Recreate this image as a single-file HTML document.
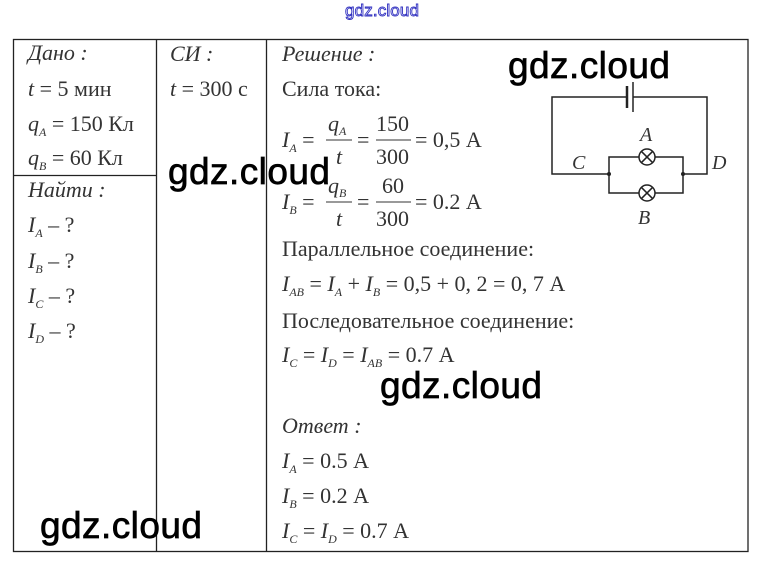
<!DOCTYPE html>
<html><head><meta charset="utf-8"><style>
html,body{margin:0;padding:0;background:#fff;}
svg{display:block;}
text{font-family:"Liberation Serif",serif;fill:#333;}
.i{font-style:italic;}
.s{font-size:12px;font-style:italic;}
.w{font-family:"Liberation Sans","DejaVu Sans",sans-serif;font-size:37px;fill:#000;stroke:#000;stroke-width:0.7;}
</style></head><body>
<svg width="764" height="569" viewBox="0 0 764 569" xmlns="http://www.w3.org/2000/svg">
<rect x="0" y="0" width="764" height="569" fill="#fff"/>
<text x="345" y="16" textLength="74" style="font-family:'Liberation Sans',sans-serif;font-size:17px;fill:#fff;stroke:#3030c0;stroke-width:0.9">gdz.cloud</text>
<g stroke="#222" stroke-width="1.3" fill="none">
<rect x="13.5" y="39.5" width="734.5" height="512"/>
<line x1="156.5" y1="39.5" x2="156.5" y2="552"/>
<line x1="266.5" y1="39.5" x2="266.5" y2="552"/>
<line x1="13.5" y1="175.5" x2="156.5" y2="175.5"/>
</g>
<g font-size="22">
<text x="28" y="60" class="i">Дано :</text>
<text x="28" y="96"><tspan class="i">t</tspan> = 5 мин</text>
<text x="28" y="131"><tspan class="i">q</tspan><tspan class="s" dy="5">A</tspan><tspan dy="-5"> = 150 Кл</tspan></text>
<text x="28" y="165"><tspan class="i">q</tspan><tspan class="s" dy="5">B</tspan><tspan dy="-5"> = 60 Кл</tspan></text>
<text x="28" y="197" class="i">Найти :</text>
<text x="28" y="232"><tspan class="i">I</tspan><tspan class="s" dy="5">A</tspan><tspan dy="-5"> – ?</tspan></text>
<text x="28" y="268"><tspan class="i">I</tspan><tspan class="s" dy="5">B</tspan><tspan dy="-5"> – ?</tspan></text>
<text x="28" y="303"><tspan class="i">I</tspan><tspan class="s" dy="5">C</tspan><tspan dy="-5"> – ?</tspan></text>
<text x="28" y="338"><tspan class="i">I</tspan><tspan class="s" dy="5">D</tspan><tspan dy="-5"> – ?</tspan></text>

<text x="170" y="61" class="i">СИ :</text>
<text x="170" y="96"><tspan class="i">t</tspan> = 300 с</text>

<text x="282" y="61" class="i">Решение :</text>
<text x="282" y="96">Сила тока:</text>

<text x="282" y="147"><tspan class="i">I</tspan><tspan class="s" dy="5">A</tspan><tspan dy="-5"> =</tspan></text>
<text x="328" y="131"><tspan class="i">q</tspan><tspan class="s" dy="4">A</tspan></text>
<text x="336" y="164" class="i">t</text>
<line x1="326" y1="140" x2="352" y2="140" stroke="#333" stroke-width="1"/>
<text x="357" y="147">=</text>
<text x="376" y="131">150</text>
<text x="376" y="164">300</text>
<line x1="376" y1="140" x2="411" y2="140" stroke="#333" stroke-width="1"/>
<text x="415" y="147">= 0,5 А</text>

<text x="282" y="209"><tspan class="i">I</tspan><tspan class="s" dy="5">B</tspan><tspan dy="-5"> =</tspan></text>
<text x="328" y="193"><tspan class="i">q</tspan><tspan class="s" dy="4">B</tspan></text>
<text x="336" y="226" class="i">t</text>
<line x1="326" y1="202" x2="352" y2="202" stroke="#333" stroke-width="1"/>
<text x="357" y="209">=</text>
<text x="382" y="193">60</text>
<text x="376" y="226">300</text>
<line x1="376" y1="202" x2="411" y2="202" stroke="#333" stroke-width="1"/>
<text x="415" y="209">= 0.2 А</text>

<text x="282" y="256">Параллельное соединение:</text>
<text x="282" y="291"><tspan class="i">I</tspan><tspan class="s" dy="5">AB</tspan><tspan dy="-5"> = </tspan><tspan class="i">I</tspan><tspan class="s" dy="5">A</tspan><tspan dy="-5"> + </tspan><tspan class="i">I</tspan><tspan class="s" dy="5">B</tspan><tspan dy="-5"> = 0,5 + 0, 2 = 0, 7 А</tspan></text>
<text x="282" y="328">Последовательное соединение:</text>
<text x="282" y="362"><tspan class="i">I</tspan><tspan class="s" dy="5">C</tspan><tspan dy="-5"> = </tspan><tspan class="i">I</tspan><tspan class="s" dy="5">D</tspan><tspan dy="-5"> = </tspan><tspan class="i">I</tspan><tspan class="s" dy="5">AB</tspan><tspan dy="-5"> = 0.7 А</tspan></text>

<text x="282" y="433" class="i">Ответ :</text>
<text x="282" y="468"><tspan class="i">I</tspan><tspan class="s" dy="5">A</tspan><tspan dy="-5"> = 0.5 А</tspan></text>
<text x="282" y="503"><tspan class="i">I</tspan><tspan class="s" dy="5">B</tspan><tspan dy="-5"> = 0.2 А</tspan></text>
<text x="282" y="538"><tspan class="i">I</tspan><tspan class="s" dy="5">C</tspan><tspan dy="-5"> = </tspan><tspan class="i">I</tspan><tspan class="s" dy="5">D</tspan><tspan dy="-5"> = 0.7 А</tspan></text>
</g>

<g stroke="#222" stroke-width="1.5" fill="none">
<polyline points="627,97 552,97 552,174 609,174"/>
<polyline points="633,97 707,97 707,174 683,174"/>
<line x1="627" y1="86" x2="627" y2="108" stroke-width="2.5"/>
<line x1="633" y1="82" x2="633" y2="112"/>
<polyline points="639,157 609,157 609,193 639,193"/>
<polyline points="655,157 683,157 683,193 655,193"/>
<circle cx="647" cy="157" r="8"/>
<circle cx="647" cy="193" r="8"/>
<line x1="641.3" y1="151.3" x2="652.7" y2="162.7"/><line x1="652.7" y1="151.3" x2="641.3" y2="162.7"/>
<line x1="641.3" y1="187.3" x2="652.7" y2="198.7"/><line x1="652.7" y1="187.3" x2="641.3" y2="198.7"/>
</g>
<circle cx="609" cy="174" r="2" fill="#222"/>
<circle cx="683" cy="174" r="2" fill="#222"/>
<g font-size="20">
<text x="640" y="141" class="i">A</text>
<text x="572" y="169" class="i">C</text>
<text x="712" y="169" class="i">D</text>
<text x="638" y="224" class="i">B</text>
</g>

<text class="w" x="508" y="78" textLength="162">gdz.cloud</text>
<text class="w" x="168" y="184" textLength="162">gdz.cloud</text>
<text class="w" x="380" y="398" textLength="162">gdz.cloud</text>
<text class="w" x="40" y="538" textLength="162">gdz.cloud</text>
</svg>
</body></html>
